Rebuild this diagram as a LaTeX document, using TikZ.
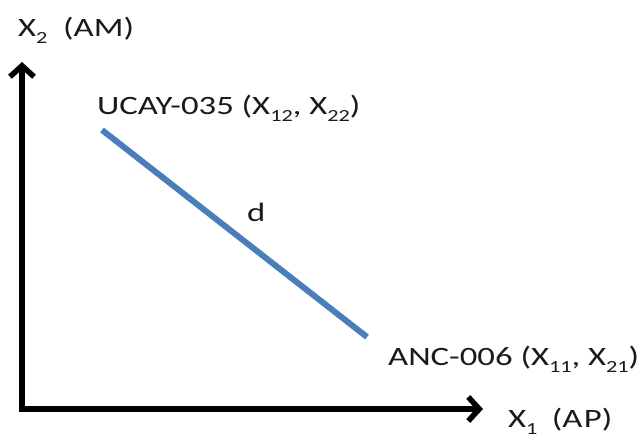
\documentclass[tikz,border=0pt]{standalone}
\usepackage{fontspec}
\setmainfont{Carlito}
\usetikzlibrary{arrows.meta}
\definecolor{txt}{HTML}{1A1A1A}
\definecolor{lineblue}{HTML}{4A7EBB}
\newcommand\sbs[1]{\raisebox{-7pt}{\fontsize{17}{17}\selectfont #1}}
\newcommand\wide[1]{\scalebox{1.31}[1]{#1}}
\tikzset{
  lbl/.style={anchor=base west, inner sep=0pt, text=txt, font=\fontsize{26.5}{30}\selectfont},
  axis/.style={line width=5.5pt, -{Straight Barb[length=11pt,width=24pt]}},
  dist/.style={line width=6pt, draw=lineblue}
}
\begin{document}
\begin{tikzpicture}[x=1pt,y=-1pt]
\useasboundingbox (0,0) rectangle (644,438);
\coordinate (origin) at (22,409);
\coordinate (ytip) at (22,62);
\coordinate (xtip) at (483,409);
\coordinate (p1) at (102,130);
\coordinate (p2) at (367,337);
\draw[axis, line cap=rect] (origin) -- (ytip);
\draw[axis, line cap=rect] (origin) -- (xtip);
\draw[dist] (p1) -- (p2);
\node[lbl] (ylab) at (18,37) {\wide{X\sbs{2}\hspace{6pt} (AM)}};
\node[lbl] (xlab) at (508,427) {\wide{X\sbs{1}\hspace{5pt} (A\hspace{1pt}P)}};
\node[lbl] (ucay) at (97,115) {\wide{UCAY-035 (X\sbs{12}, X\sbs{22})}};
\node[lbl] (anc) at (388,365) {\wide{ANC-006 (X\sbs{11}, X\sbs{21})}};
\node[lbl] (d) at (247,222) {\wide{d}};
\end{tikzpicture}
\end{document}
